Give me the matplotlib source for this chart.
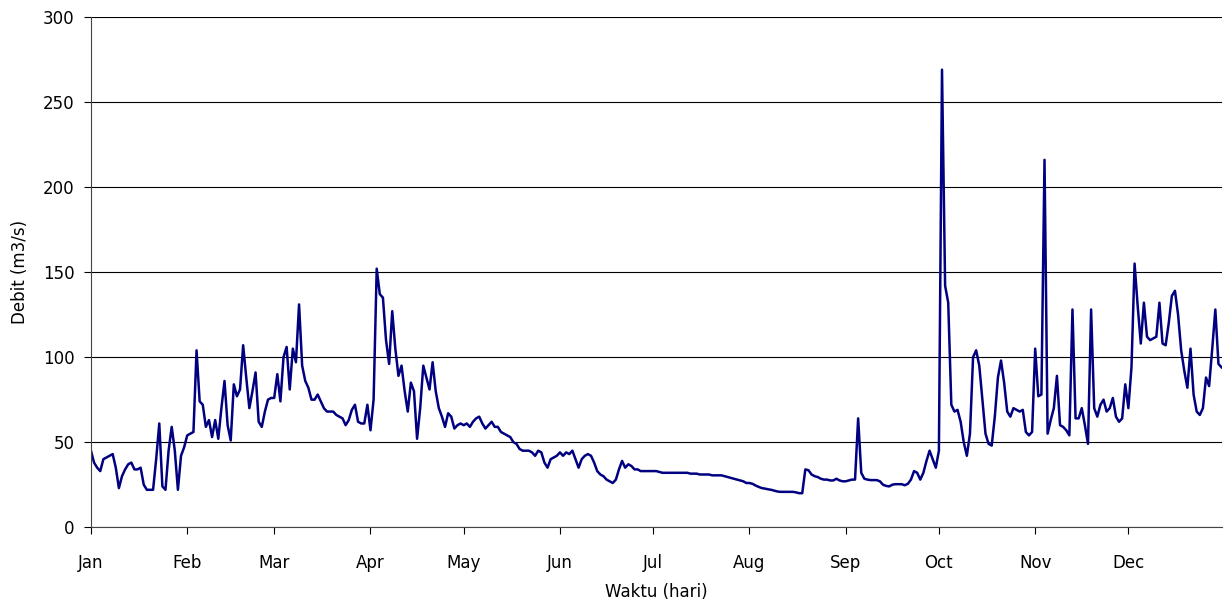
#Daily river discharge over one year

import matplotlib
matplotlib.use("Agg")
import matplotlib.pyplot as plt

MONTHS = ["Jan", "Feb", "Mar", "Apr", "May", "Jun",
          "Jul", "Aug", "Sep", "Oct", "Nov", "Dec"]
MONTH_START = [0, 31, 59, 90, 120, 151, 181, 212, 243, 273, 304, 334]

jan = [45, 38, 35, 33, 40, 41, 42, 43, 35, 23, 30, 34, 37, 38, 34, 34,
       35, 25, 22, 22, 22, 40, 61, 24, 22, 45, 59, 45, 22, 42, 47]
feb = [54, 55, 56, 104, 74, 72, 59, 63, 53, 63, 52, 70, 86, 60, 51,
       84, 77, 81, 107, 88, 70, 80, 91, 62, 59, 68, 75, 76]
mar = [76, 90, 74, 100, 106, 81, 105, 97, 131, 95, 86, 82, 75, 75, 78,
       74, 70, 68, 68, 68, 66, 65, 64, 60, 63, 69, 72, 62, 61, 61, 72]
apr = [57, 75, 152, 137, 135, 110, 96, 127, 105, 89, 95, 80, 68, 85, 80,
       52, 70, 95, 88, 81, 97, 80, 70, 65, 59, 67, 65, 58, 60, 61]
may = [60, 61, 59, 62, 64, 65, 61, 58, 60, 62, 59, 59, 56, 55, 54, 53,
       50, 49, 46, 45, 45, 45, 44, 42, 45, 44, 38, 35, 40, 41, 42]
jun = [44, 42, 44, 43, 45, 40, 35, 40, 42, 43, 42, 38, 33, 31, 30, 28,
       27, 26, 28, 34, 39, 35, 37, 36, 34, 34, 33, 33, 33, 33]
jul = [33, 33, 32.5, 32, 32, 32, 32, 32, 32, 32, 32, 32, 31.5, 31.5, 31.5,
       31, 31, 31, 31, 30.5, 30.5, 30.5, 30.5, 30, 29.5, 29, 28.5, 28,
       27.5, 27, 26]
aug = [26, 25.5, 24.5, 23.7, 23, 22.7, 22.3, 22, 21.5, 21, 20.8, 20.8,
       20.8, 20.8, 20.8, 20.5, 20, 20, 34, 33.5, 31, 30, 29.5, 28.5, 28,
       28, 27.5, 27.5, 28.5, 27.5, 27]
sep = [27, 27.5, 28, 28, 64, 32, 28.5, 28, 27.7, 27.7, 27.7, 27, 25, 24.3,
       24, 25, 25.3, 25.3, 25.3, 24.7, 25.5, 28, 33, 32, 28, 32, 39, 45,
       40, 35]
oct_ = [45, 269, 142, 132, 72, 68, 69, 62, 50, 42, 55, 100, 104, 95, 75,
        55, 49, 48, 65, 88, 98, 85, 68, 65, 70, 69, 68, 69, 56, 54, 56]
nov = [105, 77, 78, 216, 55, 63, 70, 89, 60, 59, 57, 54, 128, 64, 64, 70,
       60, 49, 128, 70, 65, 72, 75, 68, 70, 76, 65, 62, 64, 84]
dec = [70, 94, 155, 130, 108, 132, 112, 110, 111, 112, 132, 108, 107, 120,
       136, 139, 125, 104, 92, 82, 105, 78, 68, 66, 70, 88, 83, 105, 128,
       96, 94]

debit = jan + feb + mar + apr + may + jun + jul + aug + sep + oct_ + nov + dec
days = list(range(len(debit)))


def plot_debit():
    fig = plt.figure(figsize=(12.24, 6.06), dpi=100)
    ax = fig.add_axes([0.0743, 0.130, 0.9237, 0.842])
    ax.plot(days, debit, color="#000080", linewidth=1.8)

    ax.set_xlim(0, len(debit) - 1)
    ax.set_ylim(0, 300)
    ax.set_yticks(range(0, 301, 50))
    ax.set_xticks(MONTH_START)
    ax.set_xticklabels(MONTHS)
    ax.yaxis.grid(True, color="black", linewidth=0.8)
    ax.set_axisbelow(True)

    for side in ["top", "right"]:
        ax.spines[side].set_visible(False)
    ax.spines["left"].set_color("#444444")
    ax.spines["bottom"].set_color("#444444")
    ax.tick_params(axis="x", length=5, pad=14, labelsize=12)
    ax.tick_params(axis="y", length=5, pad=7, labelsize=12)

    ax.set_xlabel("Waktu (hari)", fontsize=12, labelpad=8)
    ax.set_ylabel("Debit (m3/s)", fontsize=12, labelpad=10)
    fig.savefig("out.png", dpi=100)


if __name__ == "__main__":
    plot_debit()
